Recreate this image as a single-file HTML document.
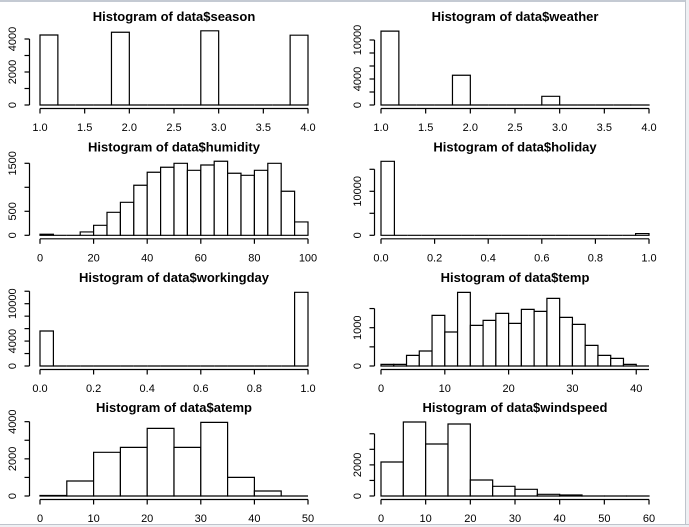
<!DOCTYPE html>
<html><head><meta charset="utf-8"><style>
html,body{margin:0;padding:0;background:#fff;}
svg{display:block;font-family:"Liberation Sans",Arial,sans-serif;}
</style></head><body>
<svg id="chart" width="689" height="527" viewBox="0 0 689 527">
<rect x="0" y="0" width="689" height="527" fill="#fff"/>
<line x1="0" y1="1" x2="689" y2="1" stroke="#c4cad3" stroke-width="2"/>
<line x1="685.5" y1="0" x2="685.5" y2="527" stroke="#bfc4cc" stroke-width="1"/>
<rect x="686" y="0" width="3" height="527" fill="#eef0f3"/>
<line x1="0" y1="524.5" x2="689" y2="524.5" stroke="#bfc4cc" stroke-width="1"/>
<rect x="0" y="525" width="689" height="2" fill="#eef0f3"/>
</svg>
<script>
// season
const seasonCounts = [4242,0,0,0,4409,0,0,0,0,4496,0,0,0,0,4232];
const seasonXTicks = [1,1.5,2,2.5,3,3.5,4];
const seasonXLabels = ["1.0","1.5","2.0","2.5","3.0","3.5","4.0"];
const seasonYTicks = [0,1000,2000,3000,4000];
const seasonYLabels = ["0","","2000","","4000"];
// weather
const weatherCounts = [11370,0,0,0,4580,0,0,0,0,1340,0,0,0,0,1];
const weatherXTicks = [1,1.5,2,2.5,3,3.5,4];
const weatherXLabels = ["1.0","1.5","2.0","2.5","3.0","3.5","4.0"];
const weatherYTicks = [0,2000,4000,6000,8000,10000];
const weatherYLabels = ["0","","4000","","","10000"];
// humidity
const humidityCounts = [22,0,0,70,208,479,687,1042,1313,1417,1500,1354,1465,1542,1292,1250,1354,1500,917,278];
const humidityXTicks = [0,20,40,60,80,100];
const humidityXLabels = ["0","20","40","60","80","100"];
const humidityYTicks = [0,500,1000,1500];
const humidityYLabels = ["0","500","","1500"];
// holiday
const holidayCounts = [16820,0,0,0,0,0,0,0,0,0,0,0,0,0,0,0,0,0,0,400];
const holidayXTicks = [0,0.2,0.4,0.6,0.8,1];
const holidayXLabels = ["0.0","0.2","0.4","0.6","0.8","1.0"];
const holidayYTicks = [0,5000,10000,15000];
const holidayYLabels = ["0","","10000",""];
// workingday
const workingdayCounts = [5620,0,0,0,0,0,0,0,0,0,0,0,0,0,0,0,0,0,0,11830];
const workingdayXTicks = [0,0.2,0.4,0.6,0.8,1];
const workingdayXLabels = ["0.0","0.2","0.4","0.6","0.8","1.0"];
const workingdayYTicks = [0,2000,4000,6000,8000,10000,12000];
const workingdayYLabels = ["0","","4000","","","10000",""];
// temp
const tempCounts = [43,43,278,391,1322,887,1922,1061,1191,1374,1113,1478,1426,1765,1270,1087,539,278,200,43,0];
const tempXTicks = [0,10,20,30,40];
const tempXLabels = ["0","10","20","30","40"];
const tempYTicks = [0,500,1000,1500];
const tempYLabels = ["0","","1000",""];
// atemp
const atempCounts = [27,807,2350,2619,3641,2619,3964,1004,269,0];
const atempXTicks = [0,10,20,30,40,50];
const atempXLabels = ["0","10","20","30","40","50"];
const atempYTicks = [0,1000,2000,3000,4000];
const atempYLabels = ["0","","2000","","4000"];
// windspeed
const windspeedCounts = [2186,4757,3343,4629,1029,621,429,107,64,5,0,2];
const windspeedXTicks = [0,10,20,30,40,50,60];
const windspeedXLabels = ["0","10","20","30","40","50","60"];
const windspeedYTicks = [0,1000,2000,3000,4000];
const windspeedYLabels = ["0","","2000","",""];

const NS = "http://www.w3.org/2000/svg";
const svg = document.getElementById("chart");
function mk(tag, attrs, parent) {
  const e = document.createElementNS(NS, tag);
  for (const k in attrs) e.setAttribute(k, attrs[k]);
  parent.appendChild(e);
  return e;
}
function drawHist(name, title, counts, binStart, binWidth, xmin, xmax, xTicks, xLabels, yTicks, yLabels, L, R, base, perUnit, left) {
  const g = mk("g", {}, svg);
  
  
  const xs = v => L + (v - xmin) / (xmax - xmin) * (R - L);
  const ys = v => base - v * perUnit;
  const t = mk("text", {x: (L + R) / 2, y: base - 84, "text-anchor": "middle", "font-weight": "bold", "font-size": "13", fill: "#000"}, g);
  t.textContent = title;
  
  
  // bars
  for (let i = 0; i < counts.length; i++) {
    const x0 = xs(binStart + i * binWidth), x1 = xs(binStart + (i + 1) * binWidth);
    const yt = ys(counts[i]);
    const p = mk("path", {d: "M" + x0 + " " + base + " V" + yt + " H" + x1 + " V" + base + " Z", fill: "#fff", stroke: "#000", "stroke-width": "1.2"}, g);
    
    
  }
  // x axis
  const ay = base + 3.5;
  const xa = mk("g", {}, g);
  
  
  mk("line", {x1: xs(xTicks[0]), x2: Math.max(xs(xTicks[xTicks.length - 1]), name === 'temp' ? R : 0), y1: ay, y2: ay, stroke: "#000", "stroke-width": "1.2"}, xa);
  xTicks.forEach((v, i) => {
    mk("line", {x1: xs(v), x2: xs(v), y1: ay, y2: ay + 5, stroke: "#000", "stroke-width": "1.2"}, xa);
    const lt = mk("text", {x: xs(v), y: base + 26, "text-anchor": "middle", "font-size": "11", fill: "#000"}, xa);
    lt.textContent = xLabels[i];
    
    
  });
  // y axis
  const ax = left ? 29.5 : 374.5;
  const ya = mk("g", {}, g);
  
  
  mk("line", {x1: ax, x2: ax, y1: ys(yTicks[0]), y2: ys(yTicks[yTicks.length - 1]), stroke: "#000", "stroke-width": "1.2"}, ya);
  yTicks.forEach((v, i) => {
    mk("line", {x1: ax, x2: ax - 5, y1: ys(v), y2: ys(v), stroke: "#000", "stroke-width": "1.2"}, ya);
    if (yLabels[i]) {
      const lx = left ? 16 : 361;
      const lt = mk("text", {x: lx, y: ys(v), "text-anchor": "middle", "font-size": "11", fill: "#000", transform: "rotate(-90 " + lx + " " + ys(v) + ")"}, ya);
      lt.textContent = yLabels[i];
      
      
    }
  });
}
drawHist("season", "Histogram of data$season", seasonCounts, 1, 0.2, 1, 4, seasonXTicks, seasonXLabels, seasonYTicks, seasonYLabels, 40, 308, 105, 33/2000, true);
drawHist("weather", "Histogram of data$weather", weatherCounts, 1, 0.2, 1, 4, weatherXTicks, weatherXLabels, weatherYTicks, weatherYLabels, 381, 649, 105, 65/10000, false);
drawHist("humidity", "Histogram of data$humidity", humidityCounts, 0, 5, 0, 100, humidityXTicks, humidityXLabels, humidityYTicks, humidityYLabels, 40, 308, 235.3, 0.048, true);
drawHist("holiday", "Histogram of data$holiday", holidayCounts, 0, 0.05, 0, 1, holidayXTicks, holidayXLabels, holidayYTicks, holidayYLabels, 381, 649, 235.3, 66/15000, false);
drawHist("workingday", "Histogram of data$workingday", workingdayCounts, 0, 0.05, 0, 1, workingdayXTicks, workingdayXLabels, workingdayYTicks, workingdayYLabels, 40, 308, 366, 0.00623, true);
drawHist("temp", "Histogram of data$temp", tempCounts, 0, 2, 0, 42, tempXTicks, tempXLabels, tempYTicks, tempYLabels, 381, 649, 366, 0.0383, false);
drawHist("atemp", "Histogram of data$atemp", atempCounts, 0, 5, 0, 50, atempXTicks, atempXLabels, atempYTicks, atempYLabels, 40, 308, 496, 0.01858, true);
drawHist("windspeed", "Histogram of data$windspeed", windspeedCounts, 0, 5, 0, 60, windspeedXTicks, windspeedXLabels, windspeedYTicks, windspeedYLabels, 381, 649, 496, 0.01556, false);
</script>
</body></html>
